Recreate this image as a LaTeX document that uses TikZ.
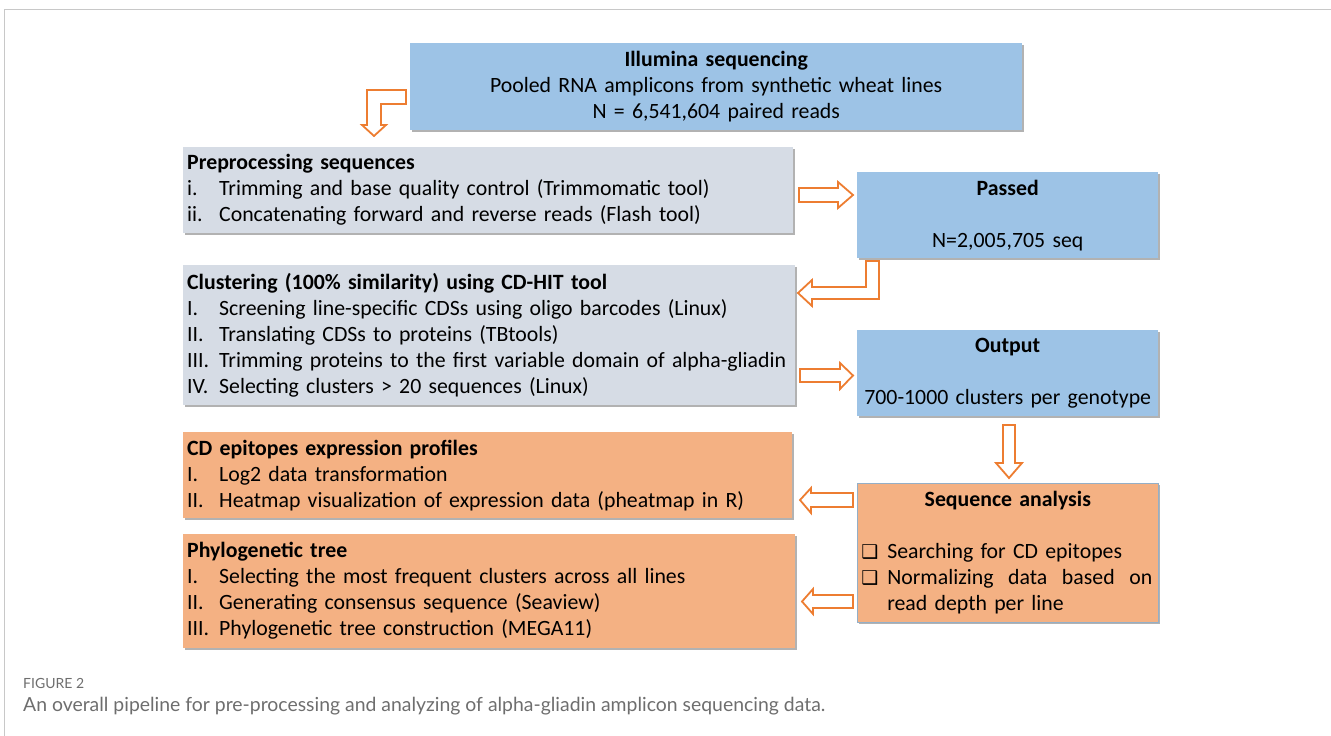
\documentclass[tikz,border=0pt]{standalone}
\usepackage{fontspec}
\setmainfont{Carlito}
\newfontfamily\symfont{DejaVu Sans}
\newfontfamily\capfont{Lato}
\usetikzlibrary{shadows}

\definecolor{boxblue}{HTML}{9DC3E6}
\definecolor{boxgray}{HTML}{D6DCE5}
\definecolor{boxorange}{HTML}{F4B183}
\definecolor{arroworange}{HTML}{ED7D31}
\definecolor{framegray}{HTML}{C8C8C8}
\definecolor{captiongray}{HTML}{6E6E6E}

\newcommand{\lbl}[1]{\makebox[32pt][l]{#1}}
\newcommand{\tick}{\makebox[26pt][l]{\fontsize{19}{19}\symfont ❑}}

\tikzset{
  box/.style={anchor=north west, inner xsep=4pt, inner ysep=0pt,
    font=\fontsize{21.8}{26}\selectfont,
    drop shadow={shadow xshift=1.5pt, shadow yshift=-1.5pt, opacity=0.3, fill=black}},
  bluebox/.style={box, fill=boxblue, align=center},
  graybox/.style={box, fill=boxgray, align=left},
  orangebox/.style={box, fill=boxorange, align=left},
  hollow/.style={draw=arroworange, line width=1.8pt, fill=white, line join=miter},
}

\begin{document}
\begin{tikzpicture}[x=1pt, y=-1pt]
    \useasboundingbox (0,0) rectangle (1331,736);
    \draw[framegray, line width=1pt] (4,736) -- (4,9) -- (1331,9);

    % boxes
    \node[bluebox, text width=604pt, minimum height=87pt] (illumina) at (410,43)
        {\textbf{Illumina sequencing}\\ Pooled RNA amplicons from synthetic wheat lines\\ N = 6,541,604 paired reads};
    \node[graybox, text width=602pt, minimum height=86pt] (prep) at (183,147)
        {\textbf{Preprocessing sequences}\\
         \lbl{i.}Trimming and base quality control (Trimmomatic tool)\\
         \lbl{ii.}Concatenating forward and reverse reads (Flash tool)};
    \node[bluebox, text width=293pt, minimum height=86pt] (passed) at (857,172)
        {\textbf{Passed}\\[26pt] N=2,005,705 seq};
    \node[graybox, text width=604pt, minimum height=140pt] (clust) at (183,265)
        {\textbf{Clustering (100\% similarity) using CD-HIT tool}\\
         \lbl{I.}Screening line-specific CDSs using oligo barcodes (Linux)\\
         \lbl{II.}Translating CDSs to proteins (TBtools)\\
         \lbl{III.}Trimming proteins to the first variable domain of alpha-gliadin\\
         \lbl{IV.}Selecting clusters > 20 sequences (Linux)};
    \node[bluebox, text width=293pt, minimum height=86pt] (output) at (857,330)
        {\textbf{Output}\\[26pt] 700-1000 clusters per genotype};
    \node[orangebox, text width=601pt, minimum height=86pt] (cdepi) at (183,432)
        {\textbf{CD epitopes expression profiles}\\
         \lbl{I.}Log2 data transformation\\
         \lbl{II.}Heatmap visualization of expression data (pheatmap in R)};
    \node[orangebox, text width=293pt, minimum height=139pt, draw=boxblue!70!gray, line width=0.6pt] (seqan) at (857,483)
        {\makebox[293pt][c]{\textbf{Sequence analysis}}\\[26pt]
         \tick Searching for CD epitopes\\
         \tick\makebox[265pt][s]{Normalizing\hfill data\hfill based\hfill on}\\
         \hspace*{26pt}read depth per line};
    \node[orangebox, text width=604pt, minimum height=114pt] (phylo) at (183,534)
        {\textbf{Phylogenetic tree}\\
         \lbl{I.}Selecting the most frequent clusters across all lines\\
         \lbl{II.}Generating consensus sequence (Seaview)\\
         \lbl{III.}Phylogenetic tree construction (MEGA11)};

    % block arrows
    \draw[hollow] (406,90) -- (406,104) -- (381,104) -- (381,125) -- (386,125) -- (374,136)
        -- (362,125) -- (367,125) -- (367,90) -- cycle;
    \draw[hollow] (799,188) -- (838,188) -- (838,182) -- (853,195) -- (838,208) -- (838,202)
        -- (799,202) -- cycle;
    \draw[hollow] (866,261) -- (879,261) -- (879,299) -- (812,299) -- (812,306) -- (798,293)
        -- (812,280) -- (812,287) -- (866,287) -- cycle;
    \draw[hollow] (800,369) -- (840,369) -- (840,363) -- (853,375.5) -- (840,389) -- (840,382)
        -- (800,382) -- cycle;
    \draw[hollow] (1003,425) -- (1015,425) -- (1015,463) -- (1022,463) -- (1009,478) -- (996,463)
        -- (1003,463) -- cycle;
    \draw[hollow] (853,493) -- (811,493) -- (811,488) -- (800,500) -- (811,513) -- (811,507)
        -- (853,507) -- cycle;
    \draw[hollow] (853,595) -- (813,595) -- (813,589) -- (802,601.5) -- (813,614) -- (813,608)
        -- (853,608) -- cycle;

    % caption
    \node[anchor=west, inner sep=0pt, text=captiongray, font=\capfont\fontsize{14}{16}\selectfont] (fig) at (23,683) {FIGURE 2};
    \node[anchor=west, inner sep=0pt, text=captiongray, font=\capfont\fontsize{19.4}{22}\selectfont] (cap) at (23,706)
        {An overall pipeline for pre-processing and analyzing of alpha-gliadin amplicon sequencing data.};
\end{tikzpicture}
\end{document}
